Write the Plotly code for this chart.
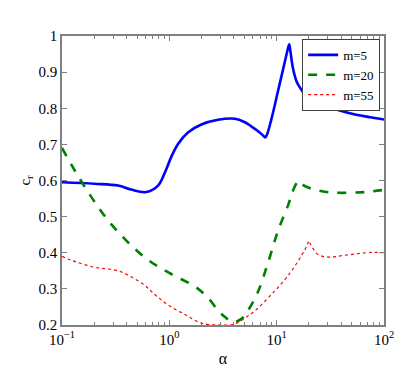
import plotly.graph_objects as go

# m=5
alpha_m5 = [0.1, 0.2, 0.333, 0.44, 0.61, 0.785, 0.906, 1.045, 1.205, 1.49, 1.99, 2.84, 4.08,
            5.0, 5.8, 6.95, 7.5, 7.8, 8.1, 8.9, 10.3, 11.9, 12.8, 13.1, 13.4, 14.2, 15.3, 16.5,
            18.3, 22, 26.1, 37.3, 55, 75, 100]
cr_m5 = [0.595, 0.591, 0.586, 0.575, 0.568, 0.586, 0.621, 0.666, 0.701, 0.733, 0.755, 0.768,
         0.771, 0.762, 0.75, 0.733, 0.724, 0.719, 0.726, 0.768, 0.848, 0.928, 0.968, 0.977,
         0.96, 0.91, 0.875, 0.857, 0.839, 0.823, 0.8125, 0.795, 0.782, 0.775, 0.769]

# m=20
alpha_m20 = [0.1, 0.164, 0.286, 0.59, 1.0, 1.74, 2.3, 2.85, 3.3, 3.9, 4.7, 5.4, 6.7, 8.3,
             10.3, 12.8, 14.2, 15.4, 15.8, 16.3, 17.5, 21.1, 28, 37.3, 66, 100]
cr_m20 = [0.69, 0.581, 0.48, 0.387, 0.344, 0.306, 0.275, 0.24, 0.222, 0.208, 0.217, 0.24,
          0.292, 0.372, 0.461, 0.532, 0.572, 0.594, 0.599, 0.596, 0.588, 0.577, 0.569, 0.566,
          0.568, 0.574]

# m=55
alpha_m55 = [0.1, 0.12, 0.2, 0.27, 0.35, 0.45, 0.59, 0.68, 0.8, 1.0, 1.4, 2.0, 3.0, 4.0,
             5.05, 6.25, 8.9, 12.8, 18.3, 19.6, 20.0, 20.5, 22, 24.3, 30.2, 43, 76, 100]
cr_m55 = [0.39, 0.38, 0.36, 0.355, 0.348, 0.332, 0.31, 0.293, 0.275, 0.253, 0.229, 0.205,
          0.2, 0.202, 0.219, 0.239, 0.284, 0.337, 0.408, 0.428, 0.433, 0.426, 0.41, 0.395,
          0.388, 0.393, 0.401, 0.4]

x_tickvals = [0.1, 1, 10, 100]
x_ticktext = ["10<sup>\u22121</sup>", "10<sup>0</sup>", "10<sup>1</sup>", "10<sup>2</sup>"]
y_tickvals = [0.2, 0.3, 0.4, 0.5, 0.6, 0.7, 0.8, 0.9, 1.0]
y_ticktext = ["0.2", "0.3", "0.4", "0.5", "0.6", "0.7", "0.8", "0.9", "1"]

minor_x = [d * 10 ** e for e in (-1, 0, 1) for d in range(2, 10)]

font_family = "Times New Roman, Liberation Serif, DejaVu Serif, serif"

fig = go.Figure()
fig.add_trace(go.Scatter(x=alpha_m5, y=cr_m5, mode="lines", name="m=5",
                         line={"color": "#0000ff", "width": 2.6, "shape": "spline", "smoothing": 1.0}))
fig.add_trace(go.Scatter(x=alpha_m20, y=cr_m20, mode="lines", name="m=20",
                         line={"color": "#008000", "width": 2.6, "dash": "dash",
                               "shape": "spline", "smoothing": 1.0}))
fig.add_trace(go.Scatter(x=alpha_m55, y=cr_m55, mode="lines", name="m=55",
                         line={"color": "#ff0000", "width": 1.2, "dash": "dot",
                               "shape": "spline", "smoothing": 1.0}))

axis_style = dict(
    showline=True, linecolor="#808080", linewidth=1.5, mirror="ticks",
    ticks="inside", tickcolor="#808080", ticklen=5, showgrid=False, zeroline=False,
    tickfont={"family": font_family, "size": 15, "color": "black"},
)
fig.update_xaxes(type="log", range=[-1, 2], tickvals=x_tickvals, ticktext=x_ticktext,
                 minor={"tickvals": minor_x, "ticks": "inside", "ticklen": 3, "tickcolor": "#808080"},
                 title={"text": "\u03b1", "font": {"family": font_family, "size": 16}, "standoff": 6},
                 **axis_style)
fig.update_yaxes(range=[0.2, 1.0], tickvals=y_tickvals, ticktext=y_ticktext,
                 title={"text": "c<sub>r</sub>", "font": {"family": font_family, "size": 15}, "standoff": 4},
                 **axis_style)
fig.update_layout(
    width=415, height=369,
    margin={"l": 54, "r": 39, "t": 28, "b": 41},
    paper_bgcolor="white", plot_bgcolor="white",
    font={"family": font_family, "color": "black"},
    legend={"x": 0.988, "y": 0.99, "xanchor": "right", "yanchor": "top",
            "bordercolor": "#404040", "borderwidth": 1, "bgcolor": "white",
            "font": {"family": font_family, "size": 13}, "tracegroupgap": 0,
            "itemwidth": 30},
    showlegend=True,
)
fig.write_html("out.html")
